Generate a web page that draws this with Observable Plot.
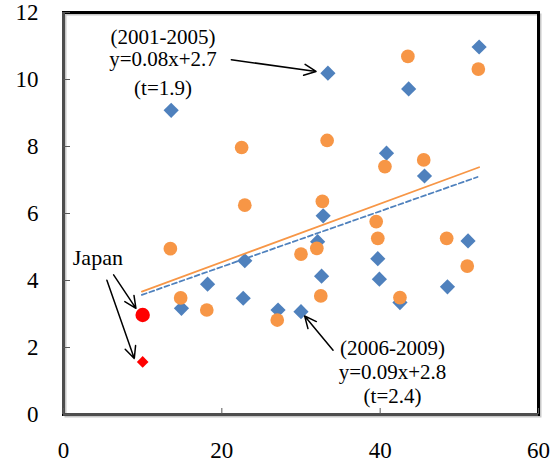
<!DOCTYPE html>
<html>
<head>
<meta charset="utf-8">
<script src="https://cdn.jsdelivr.net/npm/d3@7"></script>
<script src="https://cdn.jsdelivr.net/npm/@observablehq/plot@0.6"></script>
<style>
  html, body { margin: 0; padding: 0; background: #fff; }
  #chart { width: 557px; height: 463px; }
  #chart svg, #chart svg text { font-family: "Liberation Serif", "Times New Roman", serif !important; }
</style>
</head>
<body>
<div id="chart"></div>
<script>
// 2001-2005 series (blue diamonds)
const blueX = [13.6, 33.4, 52.5, 43.6, 40.8, 45.6, 32.8, 32.1, 32.6, 27.1, 30.0, 39.7, 39.9, 42.5, 48.5, 51.1, 22.9, 18.2, 22.7, 14.9];
const blueY = [9.08, 10.19, 10.97, 9.72, 7.80, 7.12, 5.93, 5.16, 4.13, 3.12, 3.07, 4.65, 4.04, 3.34, 3.81, 5.18, 4.59, 3.89, 3.47, 3.17];
// 2006-2009 series (orange circles)
const orangeX = [22.5, 22.9, 13.5, 14.8, 18.1, 33.3, 40.6, 32.7, 43.5, 52.4, 45.5, 39.5, 39.7, 30.0, 32.0, 32.5, 27.0, 42.5, 48.4, 51.0];
const orangeY = [7.97, 6.25, 4.95, 3.48, 3.12, 8.18, 7.40, 6.36, 10.69, 10.31, 7.60, 5.76, 5.26, 4.79, 4.96, 3.54, 2.82, 3.49, 5.26, 4.43];
// Japan
const japanX = 10;
const japanY0105 = 1.57;
const japanY0609 = 2.97;
// Trend line endpoints
const trendBlueX = [9.9, 52.3];
const trendBlueY = [3.57, 7.09];
const trendOrangeX = [9.9, 52.5];
const trendOrangeY = [3.67, 7.38];
// Ticks
const xTicks = [0, 20, 40, 60];
const yTicks = [0, 2, 4, 6, 8, 10, 12];
// Annotations
const labelText = ["(2001-2005)", "y=0.08x+2.7", "(t=1.9)", "(2006-2009)", "y=0.09x+2.8", "(t=2.4)", "Japan"];
const labelX = [12.57, 12.57, 12.57, 41.56, 41.56, 41.56, 4.34];
const labelY = [11.25, 10.59, 9.75, 1.99, 1.27, 0.55, 4.67];
const arrowX1 = [21.2, 34.05, 6.33, 5.48];
const arrowY1 = [10.59, 1.92, 4.17, 4.01];
const arrowX2 = [31.9, 30.46, 9.15, 8.94];
const arrowY2 = [10.24, 2.94, 3.17, 1.67];

const blue = blueX.map((x, i) => ({x, y: blueY[i]}));
const orange = orangeX.map((x, i) => ({x, y: orangeY[i]}));
const trendB = trendBlueX.map((x, i) => ({x, y: trendBlueY[i]}));
const trendO = trendOrangeX.map((x, i) => ({x, y: trendOrangeY[i]}));
const labels = labelText.map((t, i) => ({t, x: labelX[i], y: labelY[i], fs: t === "Japan" ? 22 : 21}));
const arrows = arrowX1.map((x1, i) => ({x1, y1: arrowY1[i], x2: arrowX2[i], y2: arrowY2[i]}));

const serif = "Liberation Serif";
const chart = Plot.plot({
  width: 557,
  height: 463,
  marginLeft: 63,
  marginRight: 19,
  marginTop: 12,
  marginBottom: 49,
  style: {fontFamily: serif, background: "white", color: "black"},
  x: {domain: [0, 60]},
  y: {domain: [0, 12]},
  marks: [
    Plot.frame({stroke: "#c8c8c8", strokeWidth: 2, dx: 2, dy: 2}),
    Plot.frame({stroke: "black", strokeWidth: 3}),
    Plot.ruleX([0], {stroke: "#4d4d4d", strokeWidth: 3}),
    Plot.ruleY([0], {stroke: "#4d4d4d", strokeWidth: 3}),
    Plot.axisX({ticks: xTicks, tickSize: -6, tickPadding: 33, fontSize: 23, fontFamily: serif, stroke: "#595959", tickFormat: d => String(d)}),
    Plot.axisY({ticks: yTicks, tickSize: -7, tickPadding: 32, fontSize: 23, fontFamily: serif, stroke: "#595959", tickFormat: d => String(d)}),
    Plot.dot(blue, {x: "x", y: "y", symbol: "diamond2", r: 6.85, fill: "#4F81BD", stroke: "none"}),
    Plot.dot(orange, {x: "x", y: "y", symbol: "circle", r: 6.85, fill: "#F79646", stroke: "none"}),
    Plot.dot([{x: japanX, y: japanY0609}], {x: "x", y: "y", symbol: "circle", r: 7.2, fill: "#FF0000", stroke: "none"}),
    Plot.dot([{x: japanX, y: japanY0105}], {x: "x", y: "y", symbol: "diamond2", r: 5.25, fill: "#FF0000", stroke: "none"}),
    Plot.line(trendO, {x: "x", y: "y", stroke: "#F79646", strokeWidth: 1.75}),
    Plot.line(trendB, {x: "x", y: "y", stroke: "#4F81BD", strokeWidth: 1.75, strokeDasharray: "5,3"}),
    Plot.arrow(arrows, {x1: "x1", y1: "y1", x2: "x2", y2: "y2", stroke: "black", strokeWidth: 1.5, headLength: 13, headAngle: 50}),
    Plot.text(labels, {x: "x", y: "y", text: "t", fontSize: d => d.fs, fontFamily: serif, textAnchor: "middle", lineAnchor: "middle", fill: "black"})
  ]
});
document.getElementById("chart").appendChild(chart);
</script>
</body>
</html>
